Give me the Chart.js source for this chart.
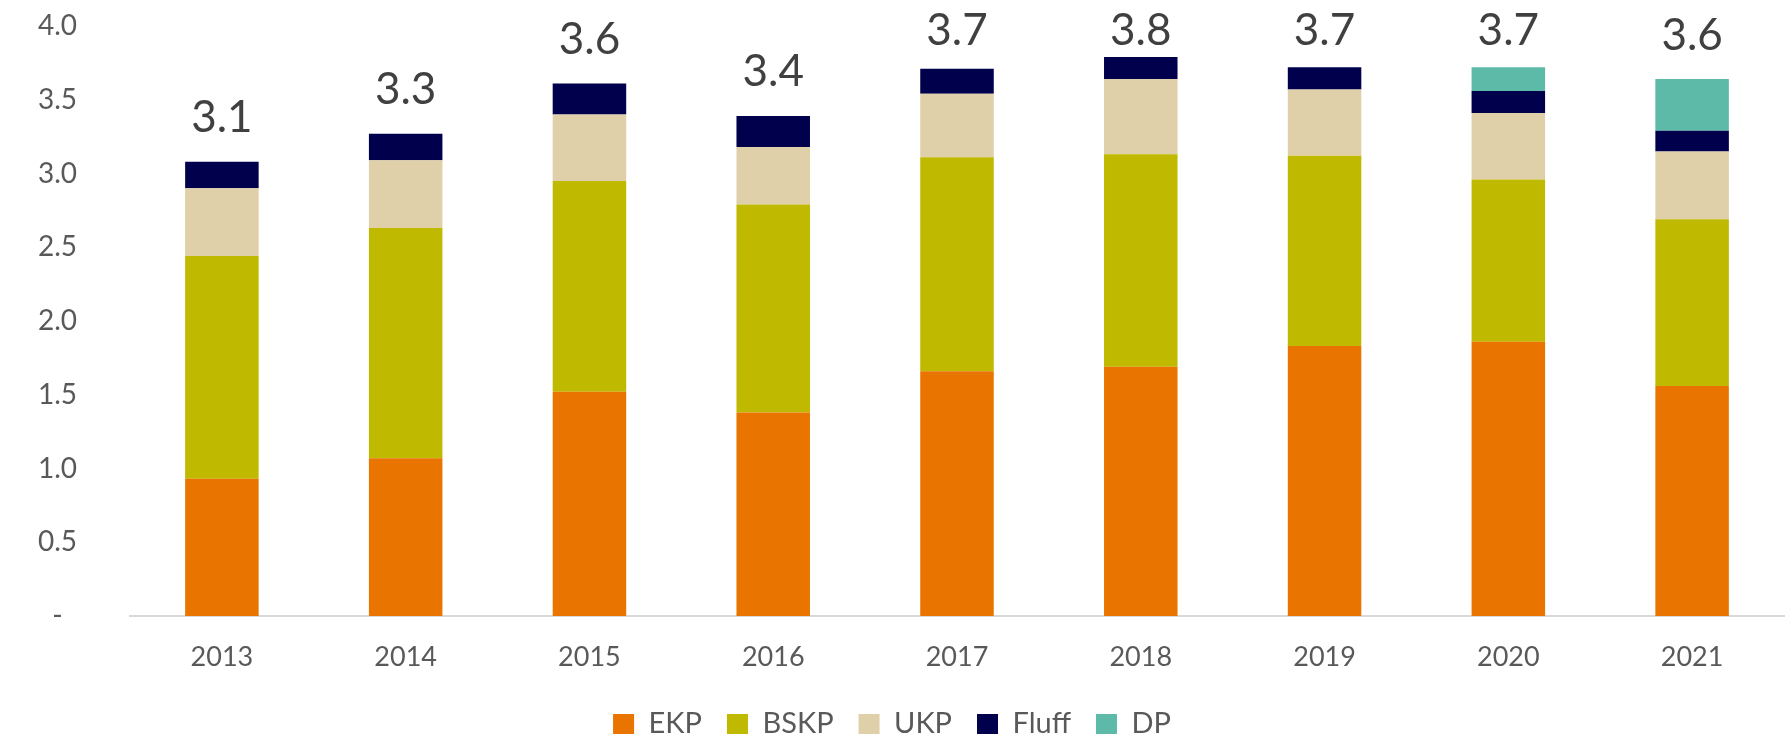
<!DOCTYPE html>
<html>
<head>
<meta charset="utf-8">
<script src="https://cdn.jsdelivr.net/npm/chart.js@4"></script>
<style>
  body { margin: 0; background: #fff; }
  #wrap { width: 1791px; height: 742px; position: relative; }
</style>
</head>
<body>
<div id="wrap"><canvas id="grafico-pilha"></canvas></div>
<script>
// Dados
const anos = ["2013", "2014", "2015", "2016", "2017", "2018", "2019", "2020", "2021"];
const ekp   = [0.93, 1.07, 1.52, 1.38, 1.66, 1.69, 1.83, 1.86, 1.56];
const bskp  = [1.51, 1.56, 1.43, 1.41, 1.45, 1.44, 1.29, 1.10, 1.13];
const ukp   = [0.46, 0.46, 0.45, 0.39, 0.43, 0.51, 0.45, 0.45, 0.46];
const fluff = [0.18, 0.18, 0.21, 0.21, 0.17, 0.15, 0.15, 0.15, 0.14];
const dp    = [null, null, null, null, null, null, null, 0.16, 0.35];
const yTicks = [0, 0.5, 1, 1.5, 2, 2.5, 3, 3.5, 4];

const fonte = "Lato, 'Open Sans', sans-serif";
const cinza = "#595959";

// Totais acima das colunas
const totais = anos.map((_, i) => [ekp, bskp, ukp, fluff, dp].reduce((s, a) => s + (a[i] || 0), 0));

const pluginTotais = {
    id: "totais",
    afterDatasetsDraw(chart) {
        const ctx = chart.ctx;
        const x = chart.scales.x;
        const y = chart.scales.y;
        ctx.save();
        ctx.font = "44px " + fonte;
        ctx.fillStyle = "#404040";
        ctx.textAlign = "center";
        ctx.textBaseline = "alphabetic";
        totais.forEach((t, i) => {
            // linha de base do texto, presa no topo quando a coluna é alta
            const py = Math.max(y.getPixelForValue(t) - 29.5, 45);
            ctx.fillText(t.toFixed(1), x.getPixelForValue(i), py);
        });
        ctx.restore();
    }
};

// Altura fixa da legenda (fica mais perto do rodapé)
const pluginLegenda = {
    id: "alturaLegenda",
    beforeLayout(chart) {
        const leg = chart.legend;
        if (leg && !leg._fitOriginal) {
            leg._fitOriginal = leg.fit;
            leg.fit = function () {
                this._fitOriginal();
                this.height = 57.5;
            };
        }
    }
};

const dadosPilha = {
    labels: anos,
    datasets: [
        { label: "EKP", data: ekp, backgroundColor: "#E97500" },
        { label: "BSKP", data: bskp, backgroundColor: "#BFB900" },
        { label: "UKP", data: ukp, backgroundColor: "#DFD0A9" },
        { label: "Fluff", data: fluff, backgroundColor: "#00004C" },
        { label: "DP", data: dp, backgroundColor: "#5DBAA9" }
    ]
};

const configPilha = {
    type: "bar",
    data: dadosPilha,
    plugins: [pluginTotais, pluginLegenda],
    options: {
        responsive: true,
        maintainAspectRatio: false,
        animation: false,
        datasets: {
            bar: { categoryPercentage: 1, barPercentage: 0.4, borderWidth: 0 }
        },
        layout: { padding: { top: 26, right: 7, left: 0, bottom: 0 } },
        plugins: {
            tooltip: { enabled: false },
            legend: {
                position: "bottom",
                labels: {
                    font: { family: fonte, size: 29 },
                    color: cinza,
                    boxWidth: 21,
                    boxHeight: 20,
                    padding: 25
                }
            }
        },
        scales: {
            x: {
                stacked: true,
                grid: { display: false, drawTicks: true, tickLength: 25 },
                border: { display: true, color: "#d9d9d9", width: 2 },
                afterFit: (scale) => { scale.height = 68.5; },
                ticks: { font: { family: fonte, size: 27 }, color: cinza, padding: 0 }
            },
            y: {
                stacked: true,
                min: 0,
                max: 4,
                grid: { display: false, drawTicks: true, tickLength: 53 },
                border: { display: false },
                afterBuildTicks: (scale) => { scale.ticks = yTicks.map(v => ({ value: v })); },
                afterFit: (scale) => { scale.width = 130; },
                ticks: {
                    font: { family: fonte, size: 28 },
                    color: cinza,
                    padding: 0,
                    callback: (v) => v === 0 ? "-  " : v.toFixed(1)
                }
            }
        }
    }
};

let myChartPilha = new Chart(document.getElementById("grafico-pilha"), configPilha);
</script>
</body>
</html>
